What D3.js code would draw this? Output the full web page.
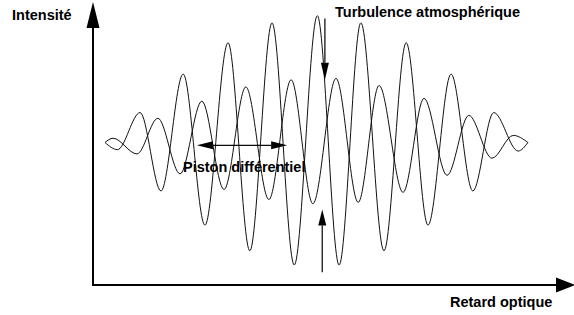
<!DOCTYPE html>
<html>
<head>
<meta charset="utf-8">
<script src="https://cdn.jsdelivr.net/npm/d3@7"></script>
<style>
  body { margin: 0; background: #fff; }
  text { font-family: "Liberation Sans", Arial, sans-serif; font-weight: bold; font-size: 14.5px; fill: #000; }
</style>
</head>
<body>
<div id="graph"></div>
<script>
// Fringe extrema (retard in wavelengths, intensity normalised to mean 1)
const fringeA_x = [-4.78, -4.50, -3.99, -3.52, -3.02, -2.53, -2.01, -1.52, -1.02, -0.52, 0, 0.49, 0.98, 1.50, 2.00, 2.49, 3.01, 3.50, 3.97, 4.52, 4.74];
const fringeA_y = [1.00, 0.95, 1.21, 0.66, 1.48, 0.42, 1.70, 0.24, 1.84, 0.14, 1.89, 0.14, 1.84, 0.24, 1.70, 0.42, 1.48, 0.66, 1.21, 0.94, 1.00];

const fringeB_x = [-4.78, -4.60, -4.06, -3.59, -3.09, -2.60, -2.10, -1.61, -1.09, -0.59, -0.10, 0.42, 0.92, 1.39, 1.93, 2.40, 2.92, 3.41, 3.93, 4.41, 4.74];
const fringeB_y = [1.00, 1.03, 0.92, 1.17, 0.78, 1.29, 0.67, 1.39, 0.60, 1.44, 0.57, 1.45, 0.58, 1.40, 0.65, 1.31, 0.77, 1.19, 0.89, 1.05, 1.00];

// Annotations (same units)
const labels = ["Intensité", "Turbulence atmosphérique", "Piston différentiel", "Retard optique"];
const turbulenceX = [0.17, 0.11];          // down arrow, up arrow
const turbulenceDown = [1.87, 1.44];
const turbulenceUp = [0.09, 0.53];
const pistonY = 0.98;
const pistonX = [-2.71, -0.68];

const width = 574;
const height = 315;

const x = d3.scaleLinear().domain([-5.05, 5.8]).range([93, 575]);
const y = d3.scaleLinear().domain([0, 2]).range([285, 0]);

const svg = d3.create("svg")
    .attr("width", width)
    .attr("height", height);

const line = d3.line()
    .x(d => x(d[0]))
    .y(d => y(d[1]))
    .curve(d3.curveMonotoneX);

const seriesA = fringeA_x.map((v, i) => [v, fringeA_y[i]]);
const seriesB = fringeB_x.map((v, i) => [v, fringeB_y[i]]);

svg.append("g")
    .selectAll("path")
    .data([seriesA, seriesB])
    .join("path")
    .attr("fill", "none")
    .attr("stroke", "#111")
    .attr("stroke-width", 1)
    .attr("d", d => line(d));

// Axes
const x0 = x.range()[0], y0 = y.range()[0];
svg.append("path")
    .attr("d", `M${x0},${y0}V28M${x0 - 1},${y0}H557`)
    .attr("stroke", "#000")
    .attr("stroke-width", 2)
    .attr("fill", "none");
svg.append("path")
    .attr("d", `M${x0},2L${x0 - 6.5},28L${x0 + 6.5},28Z`)
    .attr("fill", "#000");
svg.append("path")
    .attr("d", `M575,${y0}L556,${y0 - 7.5}L556,${y0 + 7.5}Z`)
    .attr("fill", "#000");

// Annotation arrows
function arrow(x1, y1, x2, y2, len, half) {
    const dx = x2 - x1, dy = y2 - y1, L = Math.hypot(dx, dy);
    const ux = dx / L, uy = dy / L;
    const bx = x2 - ux * len, by = y2 - uy * len;
    svg.append("line")
        .attr("x1", x1).attr("y1", y1).attr("x2", bx).attr("y2", by)
        .attr("stroke", "#000").attr("stroke-width", 1.2);
    svg.append("path")
        .attr("d", `M${x2},${y2}L${bx - uy * half},${by + ux * half}L${bx + uy * half},${by - ux * half}Z`)
        .attr("fill", "#000");
}

arrow(x(turbulenceX[0]), y(turbulenceDown[0]), x(turbulenceX[0]), y(turbulenceDown[1]), 17, 4);
arrow(x(turbulenceX[1]), y(turbulenceUp[0]), x(turbulenceX[1]), y(turbulenceUp[1]), 16, 4);
const pm = (x(pistonX[0]) + x(pistonX[1])) / 2;
arrow(pm, y(pistonY), x(pistonX[0]), y(pistonY), 16, 4);
arrow(pm, y(pistonY), x(pistonX[1]), y(pistonY), 16, 4);

// Labels
const labelPos = [[12, 20], [335, 17], [183, 172], [450, 307]];
svg.selectAll("text.lab")
    .data(labels)
    .join("text")
    .attr("class", "lab")
    .attr("x", (d, i) => labelPos[i][0])
    .attr("y", (d, i) => labelPos[i][1])
    .text(d => d);

document.getElementById("graph").appendChild(svg.node());
</script>
</body>
</html>
